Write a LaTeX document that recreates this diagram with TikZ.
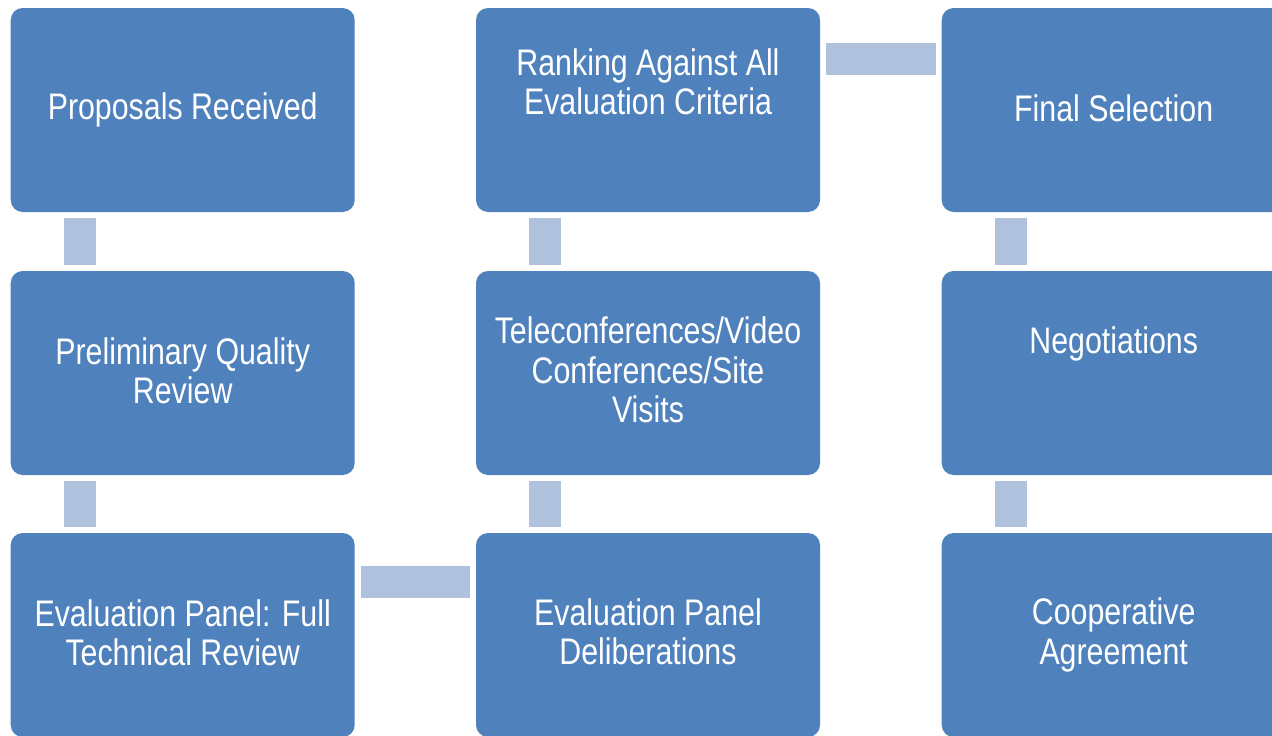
\documentclass[tikz,border=0pt]{standalone}
\usepackage{fontspec}
\setmainfont[FakeStretch=0.82]{Liberation Sans}
\definecolor{boxblue}{HTML}{4F81BD}
\definecolor{linkblue}{HTML}{B0C1DD}
\tikzset{
  box/.style={fill=boxblue, rounded corners=12pt, minimum width=344pt,
    minimum height=204pt, inner sep=0pt},
  lbl/.style={text=white, align=center, inner sep=0pt,
    font=\fontsize{37}{39.5}\selectfont},
  link/.style={draw=linkblue, line width=32pt, shorten <=6pt, shorten >=6pt},
}
\begin{document}
\begin{tikzpicture}[x=1pt, y=-1pt]
            \useasboundingbox (0,0) rectangle (1272,736);
            \clip (0,0) rectangle (1272,736);
            % Boxes
            \foreach \n/\x/\y/\dy/\t in {s1/182.7/110/0/{Proposals Received},
                s2/182.7/373/2/{Preliminary Quality\\Review},
                s3/182.7/635/2/{Evaluation Panel: Full\\Technical Review},
                s4/648/635/3/{Evaluation Panel\\Deliberations},
                s5/648/373/3/{Teleconferences/Video\\Conferences/Site\\Visits},
                s6/648/110/28/{Ranking Against All\\Evaluation Criteria},
                s7/1113.7/110/2/{Final Selection},
                s8/1113.7/373/29/{Negotiations},
                s9/1113.7/635/0/{Cooperative\\Agreement}} {
                \node[box] (\n) at (\x,\y) {};
                \node[lbl] (t\n) at ([yshift=\dy pt]\n.center) {\t};
            }
            % Links
            \foreach \a/\b in {s1/s2, s2/s3, s6/s5, s5/s4, s7/s8, s8/s9}
                \draw[link] ([xshift=69.3pt]\a.south west) -- ([xshift=69.3pt]\b.north west);
            \draw[link] ([yshift=-49.5pt]s3.north east) -- ([yshift=-49.5pt]s4.north west);
            \draw[link] ([yshift=-50.8pt]s6.north east) -- ([yshift=-50.8pt]s7.north west);
\end{tikzpicture}
\end{document}
